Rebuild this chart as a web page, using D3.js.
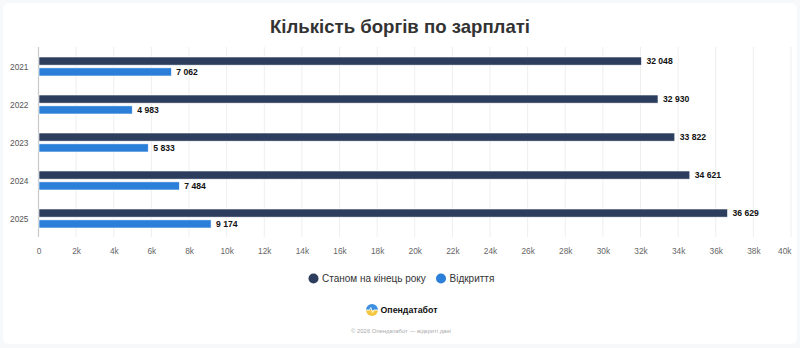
<!DOCTYPE html>
<html>
<head>
<meta charset="utf-8">
<script src="https://cdn.jsdelivr.net/npm/d3@7/dist/d3.min.js"></script>
<style>
  html, body { margin: 0; padding: 0; background: #f7f8fa; }
  svg { display: block; font-family: "Liberation Sans", Arial, sans-serif; }
</style>
</head>
<body>
<svg id="chart" width="800" height="348"></svg>
<script>
const categories = ["2021", "2022", "2023", "2024", "2025"];
const seriesNames = ["Станом на кінець року", "Відкриття"];
const endOfYear = [32048, 32930, 33822, 34621, 36629];
const opened = [7062, 4983, 5833, 7484, 9174];
const xTicks = [0, 2000, 4000, 6000, 8000, 10000, 12000, 14000, 16000, 18000, 20000, 22000, 24000, 26000, 28000, 30000, 32000, 34000, 36000, 38000, 40000];
const colors = ["#2c3d5e", "#2b7fd9"];
const titleText = "Кількість боргів по зарплаті";

(function () {
const svg = d3.select("#chart");
const W = 800, H = 348;

// card
svg.append("rect").attr("x", 3).attr("y", 3).attr("width", W - 6).attr("height", H - 7)
  .attr("rx", 6).attr("fill", "#ffffff");

svg.append("text").attr("x", 400).attr("y", 33).attr("text-anchor", "middle")
  .attr("font-size", 18.6).attr("font-weight", "bold").attr("fill", "#333")
  .text(titleText);

const pLeft = 38.5, pRight = 791, pTop = 47, pBottom = 237;
const x = d3.scaleLinear().domain([0, 40000]).range([pLeft, pRight]);
const y = d3.scaleBand().domain(categories).range([pTop, pBottom]).paddingInner(0.5).paddingOuter(0.25);
const yInner = d3.scaleBand().domain(seriesNames).range([0, y.bandwidth()]).paddingInner(0.25);

// grid
svg.append("g").selectAll("line").data(xTicks.filter(d => d > 0)).join("line")
  .attr("x1", d => x(d)).attr("x2", d => x(d)).attr("y1", pTop).attr("y2", pBottom)
  .attr("stroke", "#eeeeee").attr("stroke-width", 1);

// axis line
svg.append("line").attr("x1", pLeft).attr("x2", pLeft).attr("y1", pTop).attr("y2", pBottom)
  .attr("stroke", "#c8c8c8").attr("stroke-width", 1.2);

// x axis labels
const xAxis = d3.axisBottom(x).tickValues(xTicks).tickSize(0).tickPadding(0)
  .tickFormat(d => d === 0 ? "0" : (d / 1000) + "k");
const gx = svg.append("g").attr("transform", `translate(0,${pBottom + 11})`).call(xAxis);
gx.select(".domain").remove();
gx.selectAll("text").attr("font-size", 8.3).attr("fill", "#666").attr("font-family", "Liberation Sans, Arial, sans-serif");
gx.selectAll(".tick").filter(d => d === 40000).select("text").attr("text-anchor", "end").attr("x", 0);

// y labels
const yAxis = d3.axisLeft(y).tickSize(0).tickPadding(10);
const gy = svg.append("g").attr("transform", `translate(${pLeft},1)`).call(yAxis);
gy.select(".domain").remove();
gy.selectAll("text").attr("font-size", 8.3).attr("fill", "#555").attr("font-family", "Liberation Sans, Arial, sans-serif");

const fmtLocale = d3.formatLocale({decimal: ",", thousands: " ", grouping: [3], currency: ["", ""]});
const fmt = fmtLocale.format(",d");

const data = categories.map((c, i) => ({cat: c, vals: [endOfYear[i], opened[i]]}));
const groups = svg.append("g").selectAll("g").data(data).join("g")
  .attr("transform", d => `translate(0,${y(d.cat) + 0.5})`);

seriesNames.forEach((s, si) => {
  groups.append("rect")
    .attr("x", pLeft + 0.5)
    .attr("y", yInner(s))
    .attr("width", d => x(d.vals[si]) - pLeft - 0.5)
    .attr("height", yInner.bandwidth())
    .attr("fill", colors[si])
    .attr("stroke", "#ffffff").attr("stroke-width", 0.6);
  groups.append("text")
    .attr("x", d => x(d.vals[si]) + 5)
    .attr("y", yInner(s) + yInner.bandwidth() / 2)
    .attr("dy", "0.35em")
    .attr("font-size", 8.6).attr("font-weight", "bold").attr("fill", "#111")
    .text(d => fmt(d.vals[si]));
});

// legend
const legendItems = [{name: seriesNames[0], cx: 313.5, color: colors[0]}, {name: seriesNames[1], cx: 441, color: colors[1]}];
const lg = svg.append("g");
legendItems.forEach(it => {
  lg.append("circle").attr("cx", it.cx).attr("cy", 278.5).attr("r", 5).attr("fill", it.color);
  lg.append("text").attr("x", it.cx + 8.5).attr("y", 278.5).attr("dy", "0.35em")
    .attr("font-size", 10).attr("fill", "#333").text(it.name);
});

// logo
const logo = svg.append("g").attr("transform", "translate(372,310)");
logo.append("path").attr("d", d3.arc()({innerRadius: 0, outerRadius: 6, startAngle: -Math.PI / 2, endAngle: Math.PI / 2}))
  .attr("fill", "#3d8fe0");
logo.append("path").attr("d", d3.arc()({innerRadius: 0, outerRadius: 6, startAngle: Math.PI / 2, endAngle: 3 * Math.PI / 2}))
  .attr("fill", "#f5c842");
logo.append("path").attr("d", "M-6,0 L-2.5,0 L-1.2,-2.5 L0.5,2.5 L1.8,0 L6,0")
  .attr("fill", "none").attr("stroke", "#ffffff").attr("stroke-width", 0.9);
svg.append("text").attr("x", 380.5).attr("y", 309.5).attr("dy", "0.35em")
  .attr("font-size", 8.8).attr("font-weight", "bold").attr("fill", "#111").text("Опендатабот");

svg.append("text").attr("x", 401).attr("y", 331).attr("dy", "0.35em").attr("text-anchor", "middle")
  .attr("font-size", 5.9).attr("fill", "#aaa").text("© 2026 Опендатабот — відкриті дані");
})();
</script>
</body>
</html>
